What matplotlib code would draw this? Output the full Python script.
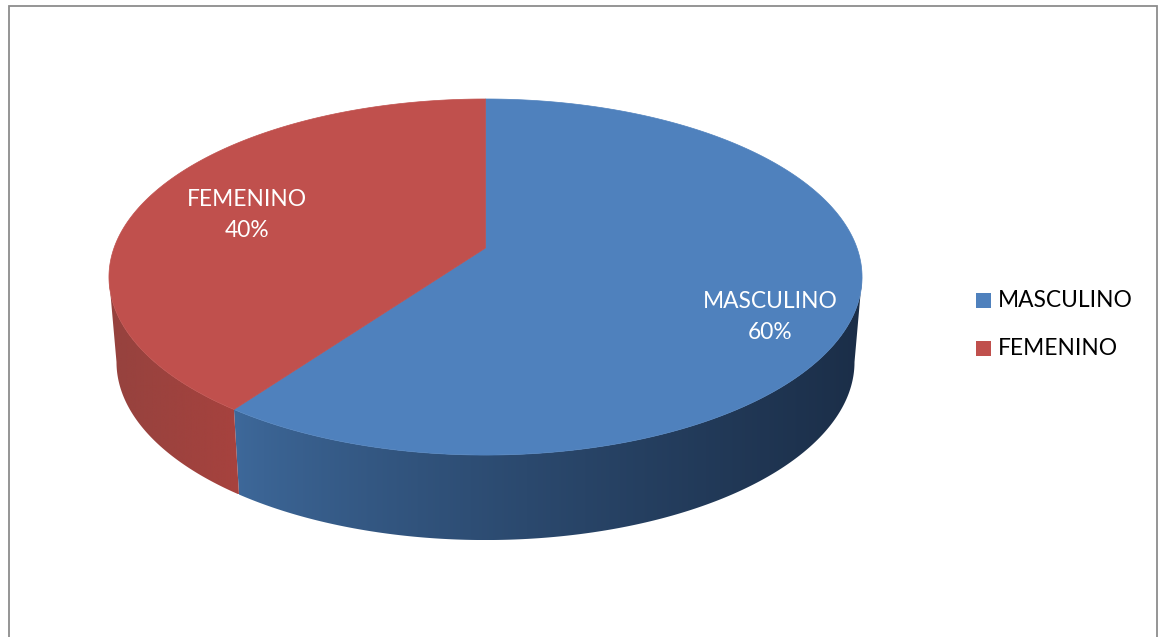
'''
Pie chart in 3D look - MASCULINO / FEMENINO
'''

import numpy as np
import matplotlib
matplotlib.use('Agg')
import matplotlib.pyplot as plt
from matplotlib.patches import Polygon, Rectangle

# Data
categories = ['MASCULINO', 'FEMENINO']
percentages = [60, 40]

top_colors = ['#4F81BD', '#C0504D']
side_left_colors = [(62, 105, 155), (168, 66, 62)]
side_right_colors = [(27, 46, 72), (150, 66, 62)]
label_pos = [(770, 317), (247, 215)]

plt.rcParams['font.family'] = ['Lato', 'DejaVu Sans']

W, H = 1158, 637
fig = plt.figure(figsize=(W / 100, H / 100), dpi=100)
ax = fig.add_axes([0, 0, 1, 1])
ax.set_xlim(0, W)
ax.set_ylim(H, 0)
ax.axis('off')

# Pie geometry in pixels, with perspective so the far half looks smaller
CX, CY = 485.5, 248
A, B, K = 371.5, 173.3, 0.163
DEPTH = 85
BOTTOM_SCALE = 0.98
# the outline is widest a bit in front of the centre
WIDEST = np.arcsin(K)


def project(theta, bottom=False):
    # theta is clockwise from the top of the pie, in radians
    x = np.sin(theta)
    y = np.cos(theta)
    d = 1 + K * y
    px = A * x / d
    py = -B * y / d
    if bottom:
        return CX + px * BOTTOM_SCALE, CY + py + DEPTH
    return CX + px, CY + py


# Frame
ax.plot([8.5, 8.5, 1157, 1157], [H, 5.5, 5.5, H], color='#8C8C8C', lw=1.3,
        solid_joinstyle='miter')

# 1. Side walls (only the front part of the pie can be seen)
start = 0
for i, value in enumerate(percentages):
    end = start + value / sum(percentages) * 2 * np.pi
    lo = max(start, np.pi / 2 + WIDEST)
    hi = min(end, 3 * np.pi / 2 - WIDEST)
    if hi > lo:
        t = np.linspace(lo, hi, 200)
        tx, ty = project(t)
        bx, by = project(t, bottom=True)
        pts = np.vstack([np.column_stack([tx, ty]),
                         np.column_stack([bx, by])[::-1]])
        poly = Polygon(pts, closed=True, fc='none', ec='none')
        ax.add_patch(poly)
        x0, x1 = pts[:, 0].min(), pts[:, 0].max()
        # darkens faster on the way to the right
        ramp = (np.linspace(0, 1, 256) ** 0.8)[None, :, None]
        left = np.array(side_left_colors[i])[None, None, :]
        right = np.array(side_right_colors[i])[None, None, :]
        grad = ((1 - ramp) * left + ramp * right) / 255
        if i == 1:
            # red wall is lit from the left, dark end is next to the blue wall
            grad = grad[:, ::-1, :]
        im = ax.imshow(grad, extent=[x0, x1, pts[:, 1].max(), pts[:, 1].min()],
                       aspect='auto', zorder=2)
        im.set_clip_path(poly)
    start = end

ax.set_xlim(0, W)
ax.set_ylim(H, 0)

# 2. Top face
start = 0
for i, value in enumerate(percentages):
    end = start + value / sum(percentages) * 2 * np.pi
    t = np.linspace(start, end, 300)
    tx, ty = project(t)
    pts = np.vstack([[CX, CY], np.column_stack([tx, ty])])
    ax.add_patch(Polygon(pts, closed=True, fc=top_colors[i], ec=top_colors[i],
                         lw=0.5, zorder=3))
    start = end

# 3. Data labels
for name, value, (lx, ly) in zip(categories, percentages, label_pos):
    ax.text(lx, ly, '%s\n%d%%' % (name, value), color='white', fontsize=16.4,
            ha='center', va='center', linespacing=1.63, zorder=4)

# 4. Legend
for i, name in enumerate(categories):
    y = 300.5 + i * 48
    ax.add_patch(Rectangle((976, y - 7.5), 15, 15, fc=top_colors[i], ec='none'))
    ax.text(998, y, name, color='black', fontsize=16.4, ha='left', va='center')

fig.savefig('out.png', dpi=100)
